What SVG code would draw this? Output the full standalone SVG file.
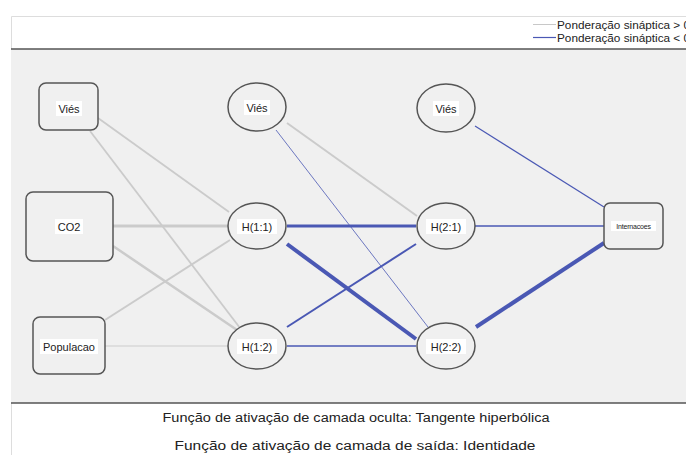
<svg xmlns="http://www.w3.org/2000/svg" width="686" height="455" viewBox="0 0 686 455">
<style>
text{font-family:"Liberation Sans",Arial,sans-serif;fill:#222}
.n{fill:#f0f0f0;stroke:#555;stroke-width:1.5}
.lb{fill:#fff}
.t{font-size:11px;text-anchor:middle}
.p{stroke:#cbcbcb;fill:none}
.q{stroke:#4a58b4;fill:none}
</style>
<rect x="0" y="0" width="686" height="455" fill="#fff"/>
<path d="M11.5 455V16.5H686" fill="none" stroke="#ddd"/>
<rect x="11" y="49" width="675" height="354" fill="#f0f0f0"/>
<line x1="11" y1="49" x2="686" y2="49" stroke="#555" stroke-width="1.5"/>
<line x1="11" y1="403" x2="686" y2="403" stroke="#555" stroke-width="1.5"/>
<g id="legend">
<line x1="533" y1="24.5" x2="556" y2="24.5" stroke="#c8c8c8"/>
<line x1="533" y1="37.5" x2="556" y2="37.5" stroke="#4a58b4" stroke-width="1.2"/>
<text x="557" y="29" font-size="11.5" textLength="133" lengthAdjust="spacingAndGlyphs">Ponderação sináptica &gt; 0</text>
<text x="557" y="42" font-size="11.5" textLength="133" lengthAdjust="spacingAndGlyphs">Ponderação sináptica &lt; 0</text>
</g>
<g id="connectors">
<line class="p" x1="98" y1="118" x2="229" y2="212" stroke-width="1.8"/>
<line class="p" x1="90" y1="131" x2="240" y2="328" stroke-width="1.8"/>
<line class="p" x1="113" y1="226" x2="228" y2="226" stroke-width="3"/>
<line class="p" x1="113" y1="246" x2="237" y2="330" stroke-width="2.5"/>
<line class="p" x1="105" y1="320" x2="230" y2="240" stroke-width="2"/>
<line x1="105" y1="346" x2="228" y2="346" stroke="#d8d8d8" stroke-width="1.3"/>
<line class="p" x1="287" y1="123" x2="417" y2="216" stroke-width="2"/>
<line class="q" x1="276" y1="130" x2="428" y2="327" stroke-width="0.8" stroke="#6f7ac4"/>
<line class="q" x1="287" y1="226" x2="416" y2="226" stroke-width="3"/>
<line class="q" x1="287" y1="244" x2="416" y2="339" stroke-width="4"/>
<line class="q" x1="287" y1="327" x2="416" y2="244" stroke-width="2"/>
<line class="q" x1="287" y1="346" x2="416" y2="346" stroke-width="1.5"/>
<line class="q" x1="475" y1="126" x2="604" y2="207" stroke-width="1.2"/>
<line class="q" x1="475" y1="226" x2="604" y2="226" stroke-width="1.5"/>
<line class="q" x1="476" y1="327" x2="604" y2="243" stroke-width="4"/>
</g>
<g id="in_vies"><rect class="n" x="39" y="83" width="59" height="47" rx="7"/><rect class="lb" x="56" y="101" width="26" height="15"/><text class="t" x="69" y="112.5">Viés</text></g>
<g id="in_co2"><rect class="n" x="26" y="192" width="87" height="69" rx="7"/><rect class="lb" x="55" y="219" width="28" height="15"/><text class="t" x="69" y="230.5">CO2</text></g>
<g id="in_pop"><rect class="n" x="33" y="317" width="72" height="57" rx="7"/><rect class="lb" x="40" y="339" width="58" height="15"/><text class="t" x="69" y="350.5">Populacao</text></g>
<g id="h1_vies"><ellipse class="n" cx="257" cy="107" rx="29" ry="24"/><rect class="lb" x="244" y="100" width="26" height="15"/><text class="t" x="257" y="111.5">Viés</text></g>
<g id="h11"><ellipse class="n" cx="257" cy="226" rx="29" ry="23"/><rect class="lb" x="237" y="219" width="40" height="15"/><text class="t" x="257" y="230.5">H(1:1)</text></g>
<g id="h12"><ellipse class="n" cx="257" cy="346" rx="29" ry="23"/><rect class="lb" x="237" y="339" width="40" height="15"/><text class="t" x="257" y="350.5">H(1:2)</text></g>
<g id="h2_vies"><ellipse class="n" cx="446" cy="108" rx="29" ry="24"/><rect class="lb" x="433" y="101" width="26" height="15"/><text class="t" x="446" y="112.5">Viés</text></g>
<g id="h21"><ellipse class="n" cx="446" cy="226" rx="29" ry="23"/><rect class="lb" x="426" y="219" width="40" height="15"/><text class="t" x="446" y="230.5">H(2:1)</text></g>
<g id="h22"><ellipse class="n" cx="446" cy="346" rx="29" ry="23"/><rect class="lb" x="426" y="339" width="40" height="15"/><text class="t" x="446" y="350.5">H(2:2)</text></g>
<g id="out"><rect class="n" x="604" y="203" width="59" height="46" rx="6"/><rect class="lb" x="611" y="221" width="45" height="10"/><text x="633.5" y="229" font-size="7" text-anchor="middle" letter-spacing="-0.2">Internacoes</text></g>
<g id="footer">
<text x="356" y="422" font-size="12" text-anchor="middle" textLength="387" lengthAdjust="spacingAndGlyphs">Função de ativação de camada oculta: Tangente hiperbólica</text>
<text x="355" y="450" font-size="12" text-anchor="middle" textLength="361" lengthAdjust="spacingAndGlyphs">Função de ativação de camada de saída: Identidade</text>
</g>
</svg>
